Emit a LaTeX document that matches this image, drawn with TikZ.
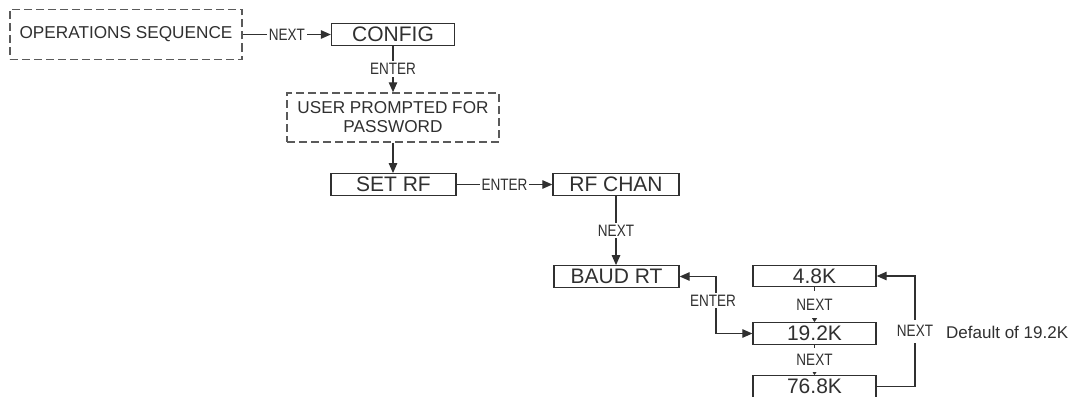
\documentclass[tikz,border=0pt]{standalone}
\usepackage{fontspec}
\setmainfont{Liberation Sans}
\newfontfamily\narrowlab[FakeStretch=0.82]{Liberation Sans}
\usetikzlibrary{arrows.meta}
\definecolor{ink}{HTML}{303030}
\definecolor{dashgray}{HTML}{5A5A5A}
\tikzset{
  solidbox/.style={draw=ink, line width=1.3pt, rectangle, inner sep=0pt, text=ink,
    font=\fontsize{21}{21}\selectfont, minimum height=21.5pt},
  dashbox/.style={draw=dashgray, line width=1.5pt, dash pattern=on 8pt off 4pt, rectangle,
    inner sep=0pt, align=center, text=ink, font=\fontsize{17.2}{19}\selectfont},
  conn/.style={draw=ink, line width=1.2pt},
  tip/.style={-{Triangle[length=10pt,width=8.5pt]}},
  smalltip/.style={-{Triangle[length=4.5pt,width=5.5pt]}},
  bothtip/.style={{Triangle[length=10pt,width=8.5pt]}-{Triangle[length=10pt,width=8.5pt]}},
  lab/.style={fill=white, inner sep=2pt, text=ink, font=\narrowlab\fontsize{16.5}{16.5}\selectfont},
}
\begin{document}
\begin{tikzpicture}[x=1pt,y=-1pt]
\fill[white] (0,0) rectangle (1075,396);
\useasboundingbox (0,0) rectangle (1075,396);

\node[dashbox, minimum width=232pt, minimum height=50pt] (ops) at (126,34.5) {OPERATIONS SEQUENCE};
\node[solidbox, minimum width=123pt] (config) at (393,34.5) {CONFIG};
\node[dashbox, minimum width=212pt, minimum height=49pt] (user) at (393,117.5) {USER PROMPTED FOR\\PASSWORD};
\node[solidbox, minimum width=125pt] (setrf) at (393.5,184.5) {SET RF};
\node[solidbox, minimum width=126pt] (rfchan) at (616,184.5) {RF CHAN};
\node[solidbox, minimum width=125pt] (baud) at (616.5,276.5) {BAUD RT};
\node[solidbox, minimum width=123pt] (k48) at (814.5,276) {4.8K};
\node[solidbox, minimum width=123pt] (k192) at (814.5,333.5) {19.2K};
\node[solidbox, minimum width=123pt] (k768) at (814.5,386.5) {76.8K};
\node[anchor=west, inner sep=0pt, text=ink, font=\fontsize{17}{17}\selectfont] (dflt) at (946,332) {Default of 19.2K};

\coordinate (e1) at (716,276.5);
\coordinate (e2) at (716,333.5);
\coordinate (l1) at (915,386.5);
\coordinate (l2) at (915,276);

\draw[conn,tip] (ops.east |- config.west) -- node[lab]{NEXT} (config.west);
\draw[conn,tip] (config.south) -- node[lab]{ENTER} (user.north);
\draw[conn,tip] (user.south) -- (user.south |- setrf.north);
\draw[conn,tip] (setrf.east) -- node[lab]{ENTER} (rfchan.west);
\draw[conn,tip] (rfchan.south) -- node[lab]{NEXT} (rfchan.south |- baud.north);
\draw[conn,bothtip] (baud.east) -- (e1) -- node[lab, pos=0.42, xshift=-3pt]{ENTER} (e2) -- (k192.west);
\draw[conn,smalltip] (k48.south) -- node[lab, inner ysep=8pt]{NEXT} (k192.north);
\draw[conn,smalltip] (k192.south) -- node[lab, inner ysep=6pt]{NEXT} (k768.north);
\draw[conn,tip] (k768.east) -- (l1) -- node[lab, inner ysep=6pt]{NEXT} (l2) -- (k48.east);
\end{tikzpicture}
\end{document}
